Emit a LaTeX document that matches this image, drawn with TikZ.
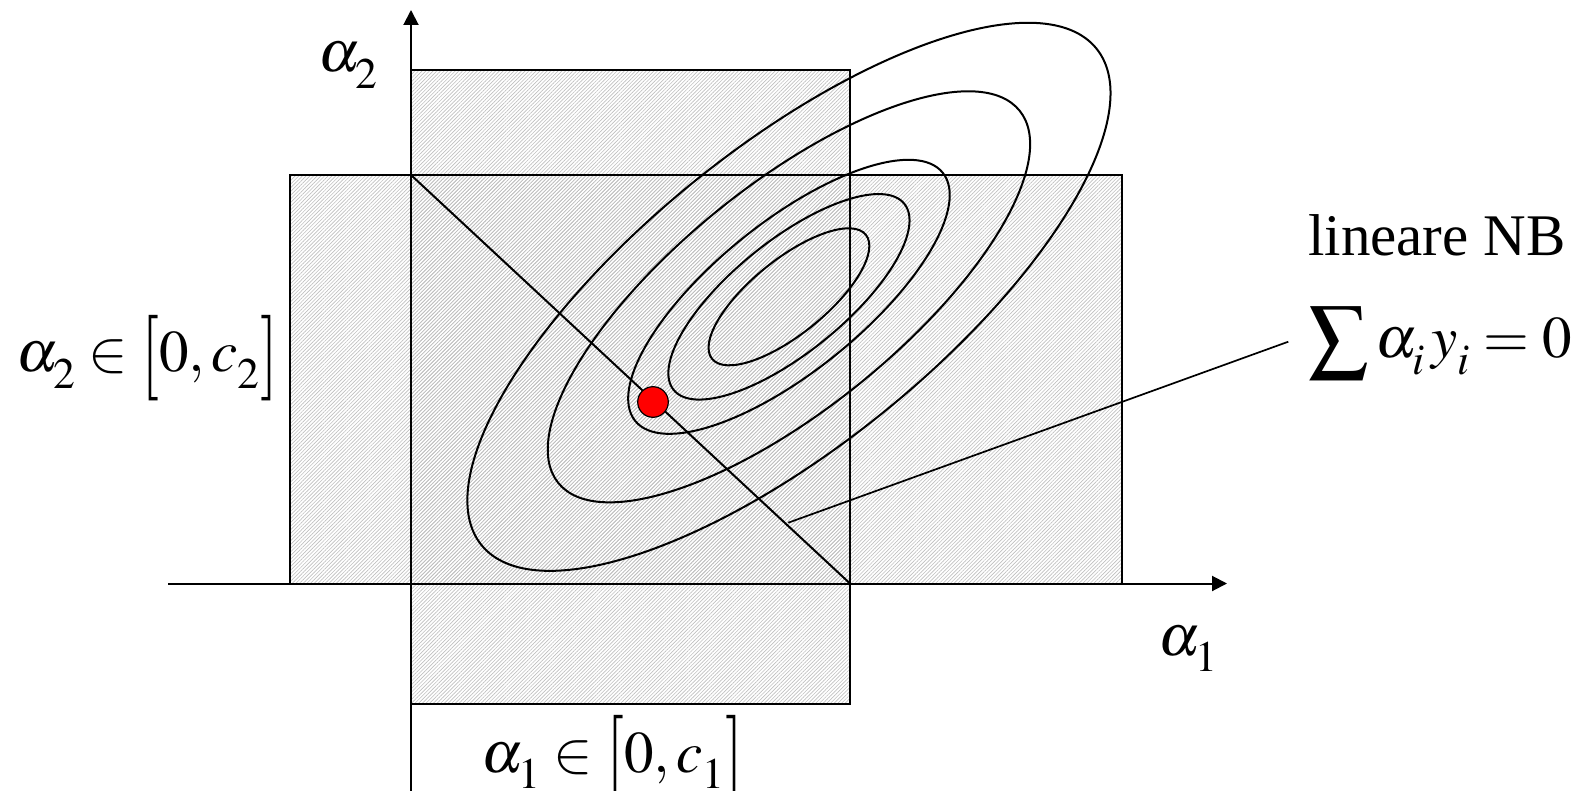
\documentclass[tikz,border=0pt]{standalone}
\usepackage{amsmath}
\usepackage{graphicx}
\usepackage{mathptmx}
\usepackage[no-math]{fontspec}
\setmainfont{Liberation Serif}
\usetikzlibrary{patterns.meta,arrows.meta}
\newcommand\lsub[1]{_{\lower8pt\hbox{$\scriptstyle#1$}}}
\newcommand\lbrk{\mathopen{\raisebox{-7pt}{\scalebox{1.1}[1.45]{$[$}}}}
\newcommand\rbrk{\mathclose{\raisebox{-7pt}{\scalebox{1.1}[1.45]{$]$}}}}
\begin{document}
\begin{tikzpicture}[x=1pt,y=-1pt,
  hatch/.style={pattern={Lines[angle=45,distance=2.6pt,line width=0.65pt]},pattern color=gray!50},
  frame/.style={draw=black,line width=2pt},
  axisline/.style={line width=2pt,-{Triangle[length=15pt,width=15pt]}},
  contour/.style={draw=black,line width=2pt},
  leader/.style={draw=black,line width=1.7pt},
  lbl/.style={inner sep=0pt,anchor=base west,font=\fontsize{59}{70}\selectfont}]
\useasboundingbox (0,0) rectangle (1590,791);
% shaded feasible boxes
\fill[hatch] (411,70) rectangle (850,704);
\fill[hatch] (290,175) rectangle (1121.7,583.5);
\draw[frame] (411,70) rectangle (850,704);
\draw[frame] (290,175) rectangle (1121.7,583.5);
% axes
\coordinate (xs) at (168,583.5);
\coordinate (xe) at (1227,583.5);
\coordinate (ys) at (411,791);
\coordinate (ye) at (411,10);
\draw[axisline] (xs) -- (xe);
\draw[axisline] (ys) -- (ye);
% diagonal constraint
\coordinate (d1) at (411,175);
\coordinate (d2) at (850,583.5);
\draw[contour] (d1) -- (d2);
% contour ellipses
\coordinate (E) at (789,296.8);
\draw[contour, rotate around={38.9:(E)}] (E) ellipse [x radius=98.8pt, y radius=37.3pt];
\draw[contour, rotate around={38.9:(E)}] (E) ellipse [x radius=148.2pt, y radius=55.95pt];
\draw[contour, rotate around={38.9:(E)}] (E) ellipse [x radius=197.6pt, y radius=74.6pt];
\draw[contour, rotate around={38.9:(E)}] (E) ellipse [x radius=296.4pt, y radius=111.9pt];
\draw[contour, rotate around={38.9:(E)}] (E) ellipse [x radius=395.2pt, y radius=149.2pt];
% optimum
\node[circle, fill=red, draw=black, line width=1.2pt, minimum size=30.6pt, inner sep=0pt] (opt) at (653,402) {};
% leader line
\coordinate (p1) at (788.3,522.7);
\coordinate (p2) at (1288.3,341.7);
\draw[leader] (p1) -- (p2);
% labels
\node[lbl] (a2) at (318,72) {$\alpha\lsub{2}$};
\node[lbl] (a1) at (1158,655) {$\alpha\lsub{1}$};
\node[lbl] (c2) at (16,372) {$\alpha\lsub{2} \in \lbrk 0,c\lsub{2}\rbrk$};
\node[lbl] (c1) at (481,772) {$\alpha\lsub{1} \in \lbrk 0,c\lsub{1}\rbrk$};
\node[lbl] (nb) at (1308,256) {lineare NB};
\node[lbl] (sum) at (1308,358) {$\displaystyle\sum \alpha\lsub{i}\,y\lsub{i} \mathrel{=} 0$};
\end{tikzpicture}
\end{document}
